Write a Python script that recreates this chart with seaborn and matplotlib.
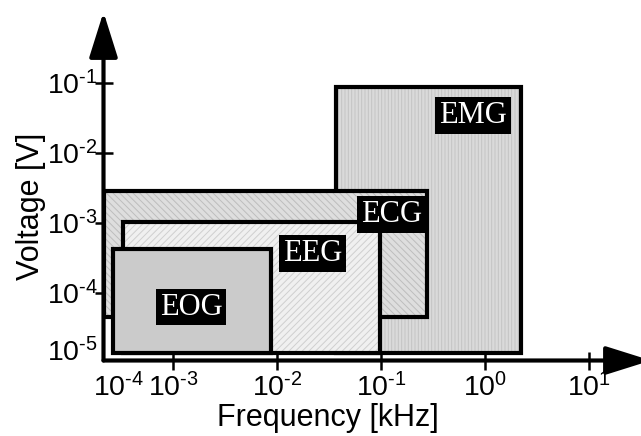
import numpy as np
import pandas as pd
import matplotlib
matplotlib.use("Agg")
import matplotlib.pyplot as plt
import seaborn as sns
from matplotlib import font_manager as fm

# ---- data ----
signals = ["EMG", "ECG", "EEG", "EOG"]
freq_low = [3.7e-2, 2.15e-4, 3.3e-4, 2.63e-4]      # kHz
freq_high = [2.2, 0.275, 0.098, 8.75e-3]            # kHz
volt_low = [1.39e-5, 4.54e-5, 1.39e-5, 1.36e-5]     # V
volt_high = [8.85e-2, 2.84e-3, 1.04e-3, 4.25e-4]    # V
label_freq = [0.76, 0.125, 0.0217, 1.48e-3]
label_volt = [0.034, 1.33e-3, 3.59e-4, 6.24e-5]

x_ticks = [1e-3, 1e-2, 1e-1, 1e0, 1e1]
x_tick_labels = [r"$10^{\text{-}3}$", r"$10^{\text{-}2}$", r"$10^{\text{-}1}$",
                 r"$10^{0}$", r"$10^{1}$"]
y_ticks = [1e-4, 1e-3, 1e-2, 1e-1]
y_tick_labels = [r"$10^{\text{-}4}$", r"$10^{\text{-}3}$", r"$10^{\text{-}2}$",
                 r"$10^{\text{-}1}$"]
# origin labels drawn without tick marks
x_origin_label = [r"$10^{\text{-}4}$"]
x_origin_pos = [3.0e-4]
y_origin_label = [r"$10^{\text{-}5}$"]
y_origin_pos = [1.54e-5]

x_limits = [10 ** -3.671, 10 ** 1.593]
y_limits = [10 ** -4.970, 10 ** 0.0157]

face_colors = ["#dadada", "#dedede", "#f0f0f0", "#cbcbcb"]
hatch_colors = ["#c4c4c4", "#bdbdbd", "#cfcfcf", "#cbcbcb"]
hatches = ["|||||", "\\\\\\\\\\", "/////", None]

df = pd.DataFrame({"signal": signals, "f0": freq_low, "f1": freq_high,
                   "v0": volt_low, "v1": volt_high,
                   "lf": label_freq, "lv": label_volt})

sns.set_theme(style="white")
names = {f.name for f in fm.fontManager.ttflist}
narrow = "Liberation Sans Narrow" in names
sans = "Liberation Sans Narrow" if narrow else "Liberation Sans"
plt.rcParams["font.family"] = [sans, "DejaVu Sans"]
plt.rcParams["mathtext.fontset"] = "custom"
plt.rcParams["mathtext.rm"] = sans
plt.rcParams["mathtext.it"] = sans
plt.rcParams["mathtext.bf"] = sans
plt.rcParams["hatch.linewidth"] = 0.7
tick_size = 24 if narrow else 20.5
label_size = 26 if narrow else 22

fig = plt.figure(figsize=(6.41, 4.36), dpi=100)
W, H = 641.0, 436.0
left_px, right_px, top_px, bottom_px = 103.5, 651.0, 12.0, 360.5
ax = fig.add_axes([left_px / W, (H - bottom_px) / H,
                   (right_px - left_px) / W, (bottom_px - top_px) / H])
ax.set_xscale("log")
ax.set_yscale("log")
ax.set_axisbelow(True)
for s in ax.spines.values():
    s.set_visible(False)

for i, row in df.iterrows():
    ax.bar(row.f0, row.v1 - row.v0, width=row.f1 - row.f0, bottom=row.v0,
           align="edge", color=face_colors[i], edgecolor=hatch_colors[i],
           hatch=hatches[i], linewidth=0, zorder=2 + i * 0.1)
    ax.bar(row.f0, row.v1 - row.v0, width=row.f1 - row.f0, bottom=row.v0,
           align="edge", fill=False, edgecolor="black", linewidth=3,
           zorder=2.05 + i * 0.1)
ax.set_xlim(*x_limits)
ax.set_ylim(*y_limits)

for i, row in df.iterrows():
    ax.text(row.lf, row.lv, row.signal, color="white", fontsize=22,
            family=["Liberation Serif", "DejaVu Serif"], ha="center", va="center",
            zorder=5,
            bbox=dict(boxstyle="square,pad=0.13", fc="black", ec="none"))

ax.set_xticks(x_ticks, labels=x_tick_labels)
ax.set_yticks(y_ticks, labels=y_tick_labels)
ax.set_xticks(x_origin_pos, labels=x_origin_label, minor=True)
ax.set_yticks(y_origin_pos, labels=y_origin_label, minor=True)
ax.tick_params(which="both", bottom=True, left=True, top=False, right=False)
ax.tick_params(which="major", direction="inout", length=13, width=1.8,
               color="black", labelsize=tick_size, labelcolor="black")
ax.tick_params(which="minor", length=0, labelsize=tick_size, labelcolor="black")
ax.tick_params(axis="x", which="major", pad=2.5)
ax.tick_params(axis="x", which="minor", pad=9)
ax.tick_params(axis="y", which="major", pad=-2.5)
ax.tick_params(axis="y", which="minor", pad=4)

# axis arrows
arrow_kw = dict(arrowstyle="-|>,head_length=2.8,head_width=0.88", mutation_scale=10,
                lw=3, color="black", shrinkA=0, shrinkB=0)
ax.annotate("", xy=(0, 1), xytext=(0, 0), xycoords="axes fraction",
            textcoords="axes fraction", arrowprops=arrow_kw, annotation_clip=False,
            zorder=6)
ax.annotate("", xy=(1, 0), xytext=(0, 0), xycoords="axes fraction",
            textcoords="axes fraction", arrowprops=arrow_kw, annotation_clip=False,
            zorder=6)

ax.set_xlabel("Frequency [kHz]", fontsize=label_size, color="black", va="center")
ax.set_ylabel("Voltage [V]", fontsize=label_size, color="black", va="center")
ax.xaxis.set_label_coords((328 - left_px) / (right_px - left_px),
                          -(418 - bottom_px) / (bottom_px - top_px))
ax.yaxis.set_label_coords((31 - left_px) / (right_px - left_px),
                          (bottom_px - 206.5) / (bottom_px - top_px))

fig.savefig("out.png", dpi=100)
